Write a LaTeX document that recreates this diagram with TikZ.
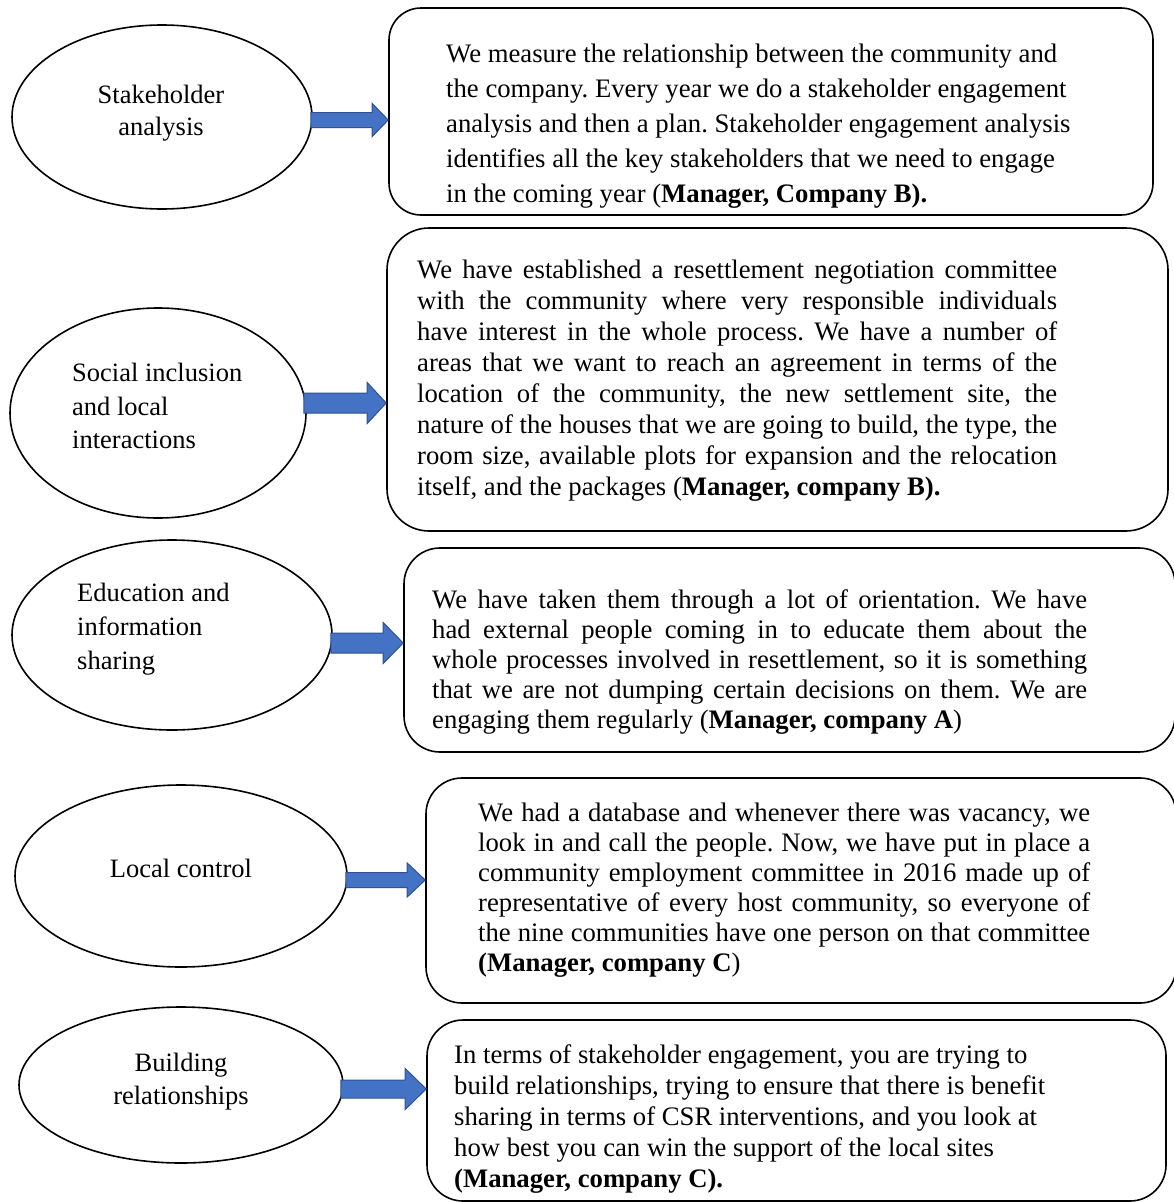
\documentclass[tikz,border=0pt]{standalone}
\usepackage{fontspec}
\setmainfont{Liberation Serif}
\usetikzlibrary{shapes.geometric,calc}
\AtBeginDocument{\frenchspacing}

\definecolor{arrowblue}{HTML}{4472C4}
\definecolor{arrowedge}{HTML}{2F528F}

% one stretched (justified) line of a given width
\newcommand{\jline}[2]{\makebox[#1][s]{#2}}

% block arrow: start, tip, shaft half-height, head half-height, head length
\newcommand{\blockarrow}[5]{%
  \filldraw[blockarrow] ($(#1)+(0,#3)$) -- ($(#2)+(-#5,#3)$) -- ($(#2)+(-#5,#4)$) -- (#2)
    -- ($(#2)+(-#5,-#4)$) -- ($(#2)+(-#5,-#3)$) -- ($(#1)+(0,-#3)$) -- cycle;}

\tikzset{
  oval/.style={draw=black, line width=1.6pt, ellipse, inner sep=0pt, fill=white},
  card/.style={draw=black, line width=1.6pt, rectangle, inner sep=0pt},
  ovaltext/.style={inner sep=0pt, font=\fontsize{26.5}{33}\selectfont\frenchspacing},
  cardtext/.style={inner sep=0pt, align=left, anchor=north west, font=\fontsize{26.7}{31}\selectfont\frenchspacing},
  blockarrow/.style={fill=arrowblue, draw=arrowedge, line width=1pt, line join=miter},
}

\begin{document}
\begin{tikzpicture}[x=1pt, y=-1pt]
\useasboundingbox[fill=white] (0,0) rectangle (1173,1202);

% ---- themes (ellipses) ----
\node[oval, minimum width=300pt, minimum height=184pt] (e1) at (162,117) {};
\node[ovaltext, align=center, anchor=north, font=\fontsize{26.5}{32}\selectfont] (e1t) at (161,81) {\strut Stakeholder\\analysis};

\node[oval, minimum width=296pt, minimum height=210pt] (e2) at (158,413) {};
\node[ovaltext, align=left, anchor=north west, font=\fontsize{26.5}{33.5}\selectfont] (e2t) at (72,358) {\strut Social inclusion\\and local\\interactions};

\node[oval, minimum width=320pt, minimum height=190pt] (e3) at (172,635) {};
\node[ovaltext, align=left, anchor=north west, font=\fontsize{26.5}{34}\selectfont] (e3t) at (77,577) {\strut Education and\\information\\sharing};

\node[oval, minimum width=332pt, minimum height=182pt] (e4) at (181,876) {};
\node[ovaltext, anchor=base] (e4t) at (181,877) {Local control};

\node[oval, minimum width=324pt, minimum height=156pt] (e5) at (181,1085) {};
\node[ovaltext, align=center, anchor=north] (e5t) at (181,1048) {\strut Building\\relationships};

% ---- quotations (rounded boxes) ----
\node[card, rounded corners=32pt, minimum width=764pt, minimum height=207pt] (b1) at (771,111.5) {};
\node[cardtext, font=\fontsize{26.7}{35}\selectfont\frenchspacing] (b1t) at (446,37.3) {\strut We measure the relationship between the community and\\
the company. Every year we do a stakeholder engagement\\
analysis and then a plan. Stakeholder engagement analysis\\
identifies all the key stakeholders that we need to engage\\
in the coming year (\textbf{Manager, Company B).}};

\node[card, rounded corners=42pt, minimum width=781pt, minimum height=303pt] (b2) at (777.5,379.5) {};
\node[cardtext] (b2t) at (417,257) {\strut\jline{640pt}{We have established a resettlement negotiation committee}\\
\jline{640pt}{with the community where very responsible individuals}\\
\jline{640pt}{have interest in the whole process. We have a number of}\\
\jline{640pt}{areas that we want to reach an agreement in terms of the}\\
\jline{640pt}{location of the community, the new settlement site, the}\\
\jline{640pt}{nature of the houses that we are going to build, the type, the}\\
\jline{640pt}{room size, available plots for expansion and the relocation}\\
itself, and the packages (\textbf{Manager, company B).}};

\node[card, rounded corners=36pt, minimum width=771pt, minimum height=204pt] (b3) at (789.5,650) {};
\node[cardtext, font=\fontsize{26.7}{30}\selectfont\frenchspacing] (b3t) at (432,587) {\strut\jline{655pt}{We have taken them through a lot of orientation. We have}\\
\jline{655pt}{had external people coming in to educate them about the}\\
\jline{655pt}{whole processes involved in resettlement, so it is something}\\
\jline{655pt}{that we are not dumping certain decisions on them. We are}\\
engaging them regularly (\textbf{Manager, company A})};

\node[card, rounded corners=36pt, minimum width=750pt, minimum height=225pt] (b4) at (801,890.5) {};
\node[cardtext, font=\fontsize{26.7}{30}\selectfont\frenchspacing] (b4t) at (478,800.5) {\strut\jline{612pt}{We had a database and whenever there was vacancy, we}\\
\jline{612pt}{look in and call the people. Now, we have put in place a}\\
\jline{612pt}{community employment committee in 2016 made up of}\\
\jline{612pt}{representative of every host community, so everyone of}\\
\jline{612pt}{the nine communities have one person on that committee}\\
\textbf{(Manager, company C})};

\node[card, rounded corners=36pt, minimum width=739pt, minimum height=181pt] (b5) at (796.5,1110.5) {};
\node[cardtext] (b5t) at (454,1042) {\strut In terms of stakeholder engagement, you are trying to\\
build relationships, trying to ensure that there is benefit\\
sharing in terms of CSR interventions, and you look at\\
how best you can win the support of the local sites\\
\textbf{(Manager, company C).}};

% ---- arrows from each theme to its quotation ----
\coordinate (a1y) at (0,120);
\coordinate (a2y) at (0,403);
\coordinate (a3y) at (0,643);
\coordinate (a4y) at (0,880);
\coordinate (a5y) at (0,1089);

\coordinate (a1s) at ($(e1.east |- a1y)+(-2,0)$);
\coordinate (a1t) at (b1.west |- a1y);
\coordinate (a2s) at ($(e2.east |- a2y)+(-3,0)$);
\coordinate (a2t) at (b2.west |- a2y);
\coordinate (a3s) at ($(e3.east |- a3y)+(-2,0)$);
\coordinate (a3t) at (b3.west |- a3y);
\coordinate (a4s) at ($(e4.east |- a4y)+(-2,0)$);
\coordinate (a4t) at (b4.west |- a4y);
\coordinate (a5s) at ($(e5.east |- a5y)+(-3,0)$);
\coordinate (a5t) at (b5.west |- a5y);

\blockarrow{a1s}{a1t}{7.5}{16.5}{16}
\blockarrow{a2s}{a2t}{10}{20.5}{19}
\blockarrow{a3s}{a3t}{10}{20.5}{20}
\blockarrow{a4s}{a4t}{7.5}{17}{18}
\blockarrow{a5s}{a5t}{9}{20.5}{21}
\end{tikzpicture}
\end{document}
